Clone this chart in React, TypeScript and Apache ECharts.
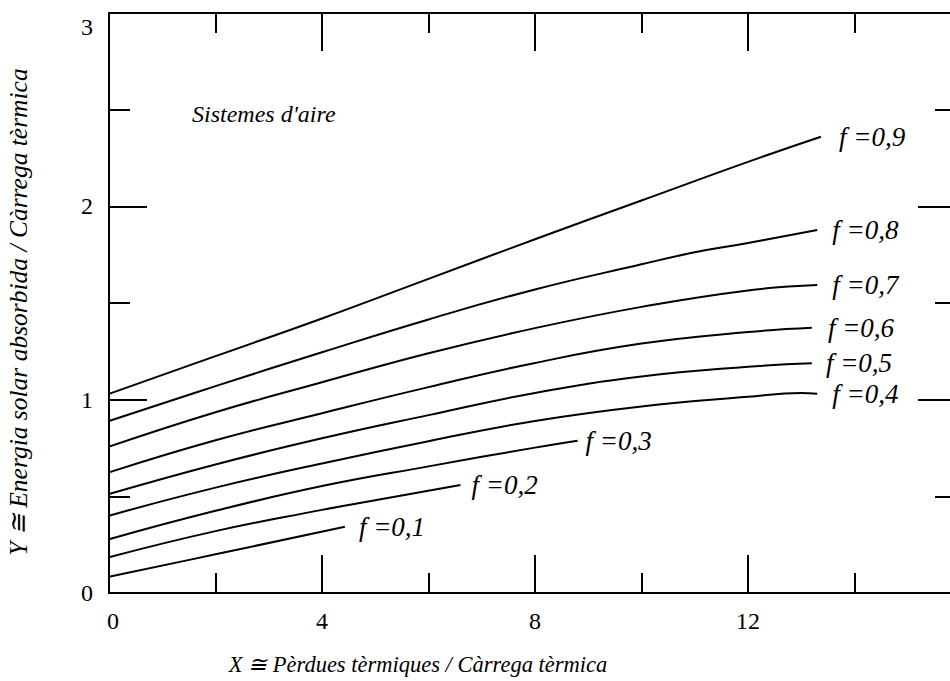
import React, { useEffect, useRef } from 'react';
import * as echarts from 'echarts';

// ---- data ----
const xTickLabels = ['0', '4', '8', '12'];
const yTickLabels = ['0', '1', '2', '3'];
const curveNames = ['f =0,1', 'f =0,2', 'f =0,3', 'f =0,4', 'f =0,5', 'f =0,6', 'f =0,7', 'f =0,8', 'f =0,9'];

const f01 = [[0, 0.084], [2, 0.2], [4.43, 0.343]];
const f02 = [[0, 0.185], [2, 0.32], [4, 0.43], [4.5, 0.455], [6.6, 0.559]];
const f03 = [[0, 0.278], [2, 0.425], [4, 0.553], [6, 0.655], [8, 0.752], [8.8, 0.788]];
const f04 = [[0, 0.4], [2, 0.545], [4, 0.67], [6, 0.785], [8, 0.89], [10, 0.965], [12, 1.015], [13.0, 1.035], [13.3, 1.03]];
const f05 = [[0, 0.512], [2, 0.665], [4, 0.8], [6, 0.92], [8, 1.035], [10, 1.12], [12, 1.17], [13.2, 1.188]];
const f06 = [[0, 0.624], [2, 0.79], [4, 0.93], [6, 1.065], [8, 1.19], [10, 1.29], [12, 1.35], [13.2, 1.372]];
const f07 = [[0, 0.757], [2, 0.935], [4, 1.09], [6, 1.24], [8, 1.37], [10, 1.48], [12, 1.565], [13.3, 1.593]];
const f08 = [[0, 0.89], [2, 1.07], [4, 1.245], [6, 1.415], [8, 1.57], [10, 1.7], [11, 1.762], [12, 1.81], [13.3, 1.878]];
const f09 = [[0, 1.03], [2, 1.225], [4, 1.42], [6, 1.625], [8, 1.83], [10, 2.03], [12, 2.23], [13.37, 2.36]];

const curves = [f01, f02, f03, f04, f05, f06, f07, f08, f09];

// label placement relative to each curve end (style, not data)
const labelShift = [[14, 3], [11, 0], [8, 0], [15, 6], [14, -5], [16, 2], [15, 7], [15, 2], [18, 6]];

const SERIF = '"Liberation Serif", "Times New Roman", serif';

export default function App() {
  const ref = useRef<HTMLDivElement>(null);

  useEffect(() => {
    if (!ref.current) return;
    const chart = echarts.init(ref.current, null, { renderer: 'svg' });

    const axisLine = { show: true, onZero: false, lineStyle: { color: '#000', width: 2 } };

    const series = curves.map((pts, i) => {
      const [dx, dy] = labelShift[i];
      return {
        type: 'line',
        name: curveNames[i],
        xAxisIndex: 0,
        yAxisIndex: 0,
        data: pts,
        smooth: 0.45,
        showSymbol: false,
        symbol: 'none',
        lineStyle: { color: '#000', width: 2 },
        endLabel: {
          show: true,
          formatter: curveNames[i],
          distance: 0,
          padding: [dy > 0 ? 2 * dy : 0, 0, dy < 0 ? -2 * dy : 0, dx],
          fontFamily: SERIF,
          fontStyle: 'italic',
          fontSize: 27,
          color: '#000',
        },
      };
    });

    chart.setOption({
      animation: false,
      backgroundColor: '#fff',
      grid: {
        left: 109,
        top: 13,
        right: -11,
        bottom: 88,
        containLabel: false,
        outerBoundsMode: 'none',
      },
      xAxis: [
        {
          type: 'value',
          position: 'bottom',
          min: 0,
          max: 16,
          interval: 4,
          axisLine,
          axisTick: { show: true, inside: true, length: 38, lineStyle: { color: '#000', width: 2 } },
          minorTick: { show: true, splitNumber: 2, length: 20, lineStyle: { color: '#000', width: 2 } },
          splitLine: { show: false },
          minorSplitLine: { show: false },
          axisLabel: {
            show: true,
            margin: 16,
            fontFamily: SERIF,
            fontSize: 24,
            color: '#000',
            formatter: (v: number) => {
              const s = String(v);
              if (xTickLabels.indexOf(s) < 0) return '';
              return s === '0' ? '{z|0}' : '{n|' + s + '}';
            },
            rich: {
              z: { fontFamily: SERIF, fontSize: 24, color: '#000', padding: [0, 0, 0, 8] },
              n: { fontFamily: SERIF, fontSize: 24, color: '#000' },
            },
          },
          name: 'X ≅ Pèrdues tèrmiques / Càrrega tèrmica',
          nameLocation: 'middle',
          nameGap: 60,
          nameTextStyle: {
            fontFamily: SERIF,
            fontStyle: 'italic',
            fontSize: 22.5,
            color: '#000',
            padding: [0, 234, 0, 0],
          },
        },
        {
          type: 'value',
          position: 'top',
          min: 0,
          max: 16,
          interval: 4,
          axisLine,
          axisTick: { show: true, inside: true, length: 38, lineStyle: { color: '#000', width: 2 } },
          minorTick: { show: true, splitNumber: 2, length: 20, lineStyle: { color: '#000', width: 2 } },
          splitLine: { show: false },
          axisLabel: { show: false },
        },
      ],
      yAxis: [
        {
          type: 'value',
          position: 'left',
          min: 0,
          max: 3,
          interval: 1,
          axisLine,
          axisTick: { show: true, inside: true, length: 38, lineStyle: { color: '#000', width: 2 } },
          minorTick: { show: true, splitNumber: 2, length: 21, lineStyle: { color: '#000', width: 2 } },
          splitLine: { show: false },
          minorSplitLine: { show: false },
          axisLabel: {
            show: true,
            margin: 16,
            fontFamily: SERIF,
            fontSize: 24,
            color: '#000',
            formatter: (v: number) => {
              const s = String(v);
              if (yTickLabels.indexOf(s) < 0) return '';
              return s === '3' ? '{t|3}' : '{n|' + s + '}';
            },
            rich: {
              t: { fontFamily: SERIF, fontSize: 24, color: '#000', padding: [28, 0, 0, 0] },
              n: { fontFamily: SERIF, fontSize: 24, color: '#000' },
            },
          },
          name: 'Y ≅ Energia solar absorbida / Càrrega tèrmica',
          nameLocation: 'middle',
          nameGap: 78,
          nameTextStyle: {
            fontFamily: SERIF,
            fontStyle: 'italic',
            fontSize: 25.5,
            color: '#000',
            padding: [0, 18, 0, 0],
          },
        },
        {
          type: 'value',
          position: 'right',
          min: 0,
          max: 3,
          interval: 1,
          axisLine,
          axisTick: { show: true, inside: true, length: 43, lineStyle: { color: '#000', width: 2 } },
          minorTick: { show: true, splitNumber: 2, length: 26, lineStyle: { color: '#000', width: 2 } },
          splitLine: { show: false },
          axisLabel: { show: false },
        },
      ],
      graphic: [
        {
          type: 'text',
          left: 192,
          top: 102,
          style: {
            text: "Sistemes d'aire",
            font: 'italic 24px "Liberation Serif", serif',
            fill: '#000',
          },
        },
      ],
      series,
    });

    return () => chart.dispose();
  }, []);

  return (
    <div
      ref={ref}
      style={{ position: 'fixed', left: 0, top: 0, width: 950, height: 681, background: '#fff' }}
    />
  );
}
